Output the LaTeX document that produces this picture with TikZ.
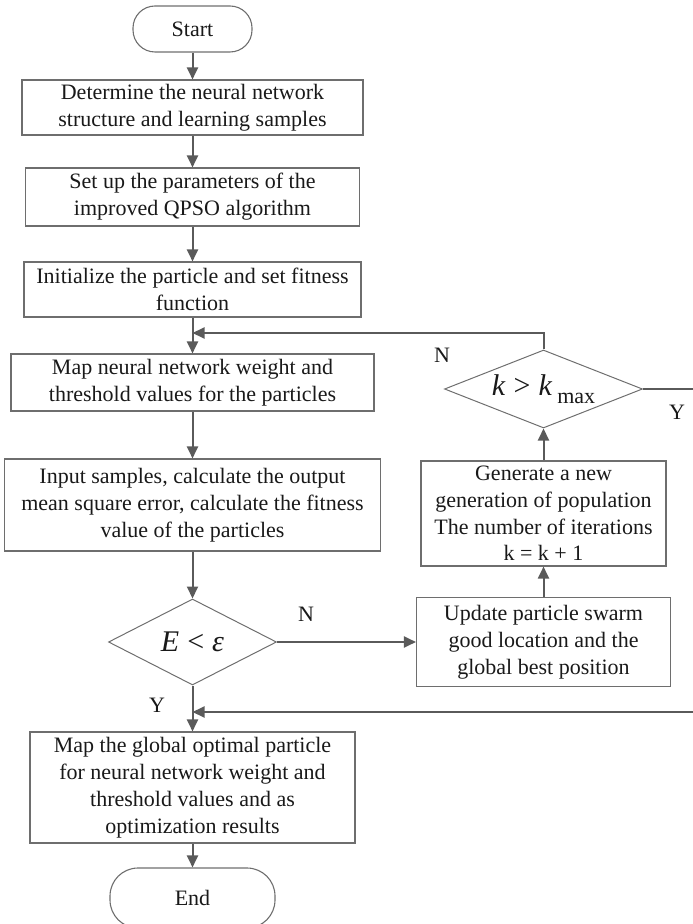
\documentclass[tikz,border=0pt]{standalone}
\usepackage{fontspec}
\setmainfont{Liberation Serif}
\usetikzlibrary{arrows.meta,shapes.geometric}

\newdimen\px \px=0.5pt
\definecolor{linegray}{HTML}{5A5A5A}
\definecolor{boxgray}{HTML}{6E6E6E}

\begin{document}
\begin{tikzpicture}[
  x=0.5pt, y=-0.5pt,
  box/.style={draw=boxgray, line width=0.55pt, align=center, inner sep=1pt,
    font=\fontsize{11pt}{13.4pt}\selectfont, text=black!90},
  term/.style={box, rounded corners=11pt},
  cond/.style={diamond, draw=boxgray, line width=0.5pt, inner sep=0pt,
    text=black!90},
  flow/.style={draw=linegray, line width=1pt,
    -{Triangle[length=6pt,width=5.5pt]}},
  wire/.style={draw=linegray, line width=1pt},
  lbl/.style={font=\fontsize{11pt}{13pt}\selectfont, text=black!90},
]
  \useasboundingbox (0,0) rectangle (692,924);

  % Main column
  \node[term, minimum width=119\px, minimum height=46\px] (start) at (192.5,29)
    {Start};
  \node[box, minimum width=341\px, minimum height=55\px] (struct) at (192.5,107.5)
    {Determine the neural network\\structure and learning samples};
  \node[box, minimum width=334\px, minimum height=58\px] (params) at (192.5,197)
    {Set up the parameters of the\\improved QPSO algorithm};
  \node[box, minimum width=337\px, minimum height=55\px] (init) at (192.5,289.5)
    {Initialize the particle and set fitness\\function};
  \node[box, minimum width=363\px, minimum height=57\px] (weights) at (192.5,382.5)
    {Map neural network weight and\\threshold values for the particles};
  \node[box, minimum width=376\px, minimum height=92\px] (fitness) at (192.5,505)
    {Input samples, calculate the output\\mean square error, calculate the fitness\\value of the particles};
  \node[cond, shape aspect=1.95, minimum width=168\px, minimum height=86\px]
    (errtest) at (192.5,642)
    {\fontsize{15pt}{15pt}\selectfont\textit{E}\hspace{4pt}<\hspace{4pt}\textit{ε}};
  \node[box, minimum width=325\px, minimum height=111\px] (result) at (192.5,787.5)
    {Map the global optimal particle\\for neural network weight and\\threshold values and as\\optimization results};
  \node[term, rounded corners=14pt, minimum width=165\px, minimum height=60\px]
    (stop) at (192.5,898) {End};

  % Update loop on the right
  \node[box, minimum width=254\px, minimum height=89\px] (update) at (543.5,642)
    {Update particle swarm\\good location and the\\global best position};
  \node[box, minimum width=245\px, minimum height=105\px] (newgen) at (543.5,513.5)
    {Generate a new\\generation of population\\The number of iterations\\k = k + 1};
  \node[cond, shape aspect=2.54, minimum width=198\px, minimum height=78\px]
    (itertest) at (543.5,389)
    {\fontsize{15pt}{15pt}\selectfont\textit{k}\hspace{4pt}>\hspace{4pt}\textit{k}\,%
     \raisebox{-4pt}{\fontsize{11pt}{11pt}\selectfont max}};

  % Junction points
  \coordinate (loopin) at (192.5,333);
  \coordinate (exitin) at (192.5,712);
  \coordinate (rim) at (694,712);

  % Main flow
  \draw[flow] (start) -- (struct);
  \draw[flow] (struct) -- (params);
  \draw[flow] (params) -- (init);
  \draw[flow] (init) -- (weights);
  \draw[flow] (weights) -- (fitness);
  \draw[flow] (fitness) -- (errtest);
  \draw[flow] (errtest) -- (result);
  \draw[flow] (result) -- (stop);

  % Branches
  \draw[flow] (errtest) -- (update);
  \draw[flow] (update) -- (newgen);
  \draw[flow] (newgen) -- (itertest);
  \draw[flow] (itertest.north) |- (loopin);
  \draw[wire] (itertest.east) -| (rim);
  \draw[flow] (rim) -- (exitin);

  % Branch labels
  \node[lbl] (nerr) at (306,614) {N};
  \node[lbl] (yerr) at (157,705) {Y};
  \node[lbl] (niter) at (442,355) {N};
  \node[lbl] (yiter) at (677,412) {Y};
\end{tikzpicture}
\end{document}
